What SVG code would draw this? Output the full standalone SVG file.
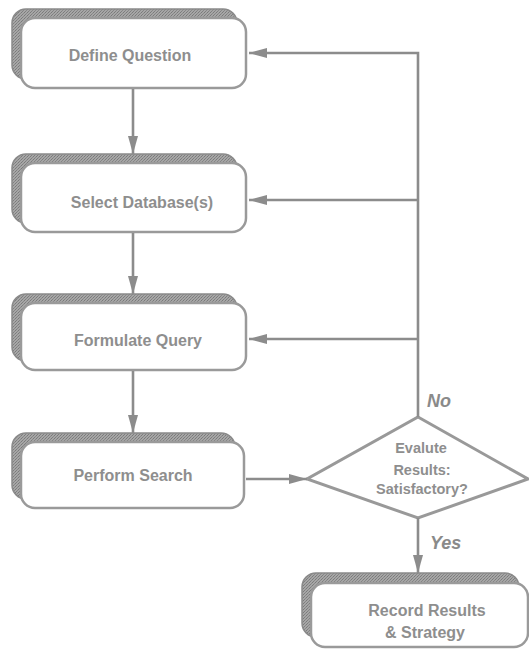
<svg xmlns="http://www.w3.org/2000/svg" width="529" height="649" viewBox="0 0 529 649">
  <defs>
    <pattern id="dither" width="3" height="3" patternUnits="userSpaceOnUse">
      <rect width="3" height="3" fill="#a6a6a6"/>
      <rect x="0" y="0" width="1" height="1" fill="#7a7a7a"/>
      <rect x="2" y="1" width="1" height="1" fill="#888"/>
      <rect x="1" y="2" width="1" height="1" fill="#7f7f7f"/>
    </pattern>
    <marker id="arrow" markerUnits="userSpaceOnUse" markerWidth="20" markerHeight="12" refX="18" refY="5" orient="auto">
      <path d="M0,0 L18,5 L0,10 z" fill="#8c8c8c"/>
    </marker>
  </defs>
  <style>
    .shadow { fill: url(#dither); stroke: #8a8a8a; stroke-width: 1.5; }
    .box { fill: #ffffff; stroke: #9a9a9a; stroke-width: 2.5; }
    .diamond { fill: #ffffff; stroke: #999999; stroke-width: 3; }
    .label { font-family: "Liberation Sans", Arial, sans-serif; font-size: 16px; font-weight: bold; fill: #8e8e8e; text-anchor: middle; }
    .dlabel { font-family: "Liberation Sans", Arial, sans-serif; font-size: 14.5px; font-weight: bold; fill: #8e8e8e; text-anchor: middle; }
    .yn { font-family: "Liberation Sans", Arial, sans-serif; font-size: 18px; font-weight: bold; font-style: italic; fill: #8a8a8a; }
    .conn { fill: none; stroke: #8c8c8c; stroke-width: 2.6; }
  </style>

  <g id="define-question">
    <rect class="shadow" x="12" y="9" width="225" height="70" rx="14"/>
    <rect class="box" x="21" y="18" width="225" height="70" rx="14"/>
    <text class="label" x="130" y="61">Define Question</text>
  </g>

  <g id="select-databases">
    <rect class="shadow" x="12" y="154" width="225" height="69" rx="14"/>
    <rect class="box" x="21" y="163" width="225" height="69" rx="14"/>
    <text class="label" x="142" y="208">Select Database(s)</text>
  </g>

  <g id="formulate-query">
    <rect class="shadow" x="12" y="294" width="225" height="67" rx="14"/>
    <rect class="box" x="21" y="303" width="225" height="67" rx="14"/>
    <text class="label" x="138" y="346">Formulate Query</text>
  </g>

  <g id="perform-search">
    <rect class="shadow" x="12" y="433" width="223" height="66" rx="14"/>
    <rect class="box" x="21" y="442" width="223" height="66" rx="14"/>
    <text class="label" x="133" y="481">Perform Search</text>
  </g>

  <g id="evaluate-results">
    <polygon class="diamond" points="418,417 528,479 418,518 307,479"/>
    <text class="dlabel" x="421" y="453">Evalute</text>
    <text class="dlabel" x="422" y="475">Results:</text>
    <text class="dlabel" x="422" y="494">Satisfactory?</text>
  </g>

  <g id="record-results">
    <rect class="shadow" x="302" y="573" width="217" height="64" rx="14"/>
    <rect class="box" x="311" y="583" width="217" height="64" rx="14"/>
    <text class="label" x="427" y="616">Record Results</text>
    <text class="label" x="425" y="638">&amp; Strategy</text>
  </g>

  <g id="connectors">
    <line class="conn" x1="133" y1="89" x2="133" y2="154" marker-end="url(#arrow)"/>
    <line class="conn" x1="133" y1="233" x2="133" y2="294" marker-end="url(#arrow)"/>
    <line class="conn" x1="133" y1="371" x2="133" y2="433" marker-end="url(#arrow)"/>
    <line class="conn" x1="246" y1="479" x2="307" y2="479" marker-end="url(#arrow)"/>
    <line class="conn" x1="418" y1="518" x2="418" y2="573" marker-end="url(#arrow)"/>
    <polyline class="conn" points="418,417 418,53 249,53" marker-end="url(#arrow)"/>
    <line class="conn" x1="418" y1="200" x2="249" y2="200" marker-end="url(#arrow)"/>
    <line class="conn" x1="418" y1="339" x2="249" y2="339" marker-end="url(#arrow)"/>
    <text class="yn" x="427" y="407">No</text>
    <text class="yn" x="430" y="549">Yes</text>
  </g>
</svg>
